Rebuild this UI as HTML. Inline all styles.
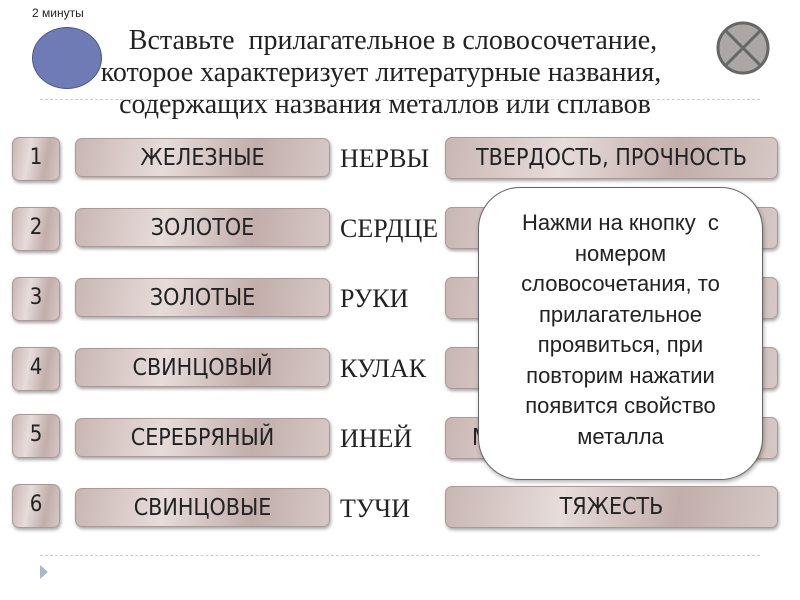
<!DOCTYPE html>
<html><head><meta charset="utf-8"><style>
body{margin:0;width:800px;height:600px;background:#fff;position:relative;overflow:hidden;font-family:"Liberation Sans","DejaVu Sans",sans-serif}
.a{position:absolute}
.b{position:absolute;box-sizing:border-box;border:1px solid #a89a98;border-radius:7px;background:linear-gradient(100deg,#c9b6b3 0%,#e6dcda 35%,#c2aeab 70%,#d6c8c6 100%);box-shadow:1px 2px 3px rgba(0,0,0,.35);text-align:center;color:#222;font-size:23px;font-family:"DejaVu Sans Condensed","Liberation Sans Narrow","Liberation Sans",sans-serif}
.n{left:12px;width:48px;height:44px;line-height:40px;font-size:22px}
.j{left:75px;width:255px;height:39px;line-height:38px}
.r{left:445px;width:333px;height:42px;line-height:40px}
.w{position:absolute;left:340px;font-family:"Liberation Serif",serif;font-size:26px;color:#222}
.t{position:absolute;left:0;width:770px;text-align:center;font-family:"Liberation Serif",serif;font-size:28px;color:#222;white-space:nowrap}
</style></head><body>
<div class="a" style="left:32px;top:6px;font-size:12px;color:#222">2 минуты</div>
<div class="t" style="top:25px;left:8px">Вставьте&nbsp; прилагательное в словосочетание,</div>
<div class="t" style="top:57px;left:-4px">которое характеризует литературные названия,</div>
<div class="t" style="top:89px;left:0">содержащих названия металлов или сплавов</div>
<div class="a" style="left:32px;top:27px;width:68px;height:60px;border-radius:50%;background:#6f7bb5;border:1px solid #4a5590"></div>
<div class="a" style="left:40px;top:99px;width:720px;border-top:1px dashed #ccc"></div>
<svg class="a" style="left:714px;top:19px" width="58" height="58"><circle cx="29" cy="29" r="25" fill="#aaa7a6" stroke="#666" stroke-width="3"/><line x1="12" y1="12" x2="46" y2="46" stroke="#666" stroke-width="3"/><line x1="46" y1="12" x2="12" y2="46" stroke="#666" stroke-width="3"/></svg>

<div class="b n" style="top:137px">1</div><div class="b j" style="top:138px">ЖЕЛЕЗНЫЕ</div><div class="w" style="top:144px">НЕРВЫ</div><div class="b r" style="top:137px">ТВЕРДОСТЬ, ПРОЧНОСТЬ</div>
<div class="b n" style="top:207px">2</div><div class="b j" style="top:208px">ЗОЛОТОЕ</div><div class="w" style="top:214px">СЕРДЦЕ</div><div class="b r" style="top:207px"></div>
<div class="b n" style="top:277px">3</div><div class="b j" style="top:278px">ЗОЛОТЫЕ</div><div class="w" style="top:284px">РУКИ</div><div class="b r" style="top:277px"></div>
<div class="b n" style="top:347px">4</div><div class="b j" style="top:348px">СВИНЦОВЫЙ</div><div class="w" style="top:354px">КУЛАК</div><div class="b r" style="top:347px"></div>
<div class="b n" style="top:414px">5</div><div class="b j" style="top:418px">СЕРЕБРЯНЫЙ</div><div class="w" style="top:424px">ИНЕЙ</div><div class="b r" style="top:417px;text-align:left;padding-left:26px">М</div>
<div class="b n" style="top:484px">6</div><div class="b j" style="top:488px">СВИНЦОВЫЕ</div><div class="w" style="top:494px">ТУЧИ</div><div class="b r" style="top:486px">ТЯЖЕСТЬ</div>

<div class="a" style="left:478px;top:187px;width:285px;height:293px;box-sizing:border-box;border:1px solid #666;border-radius:42px;background:#fff;box-shadow:1px 2px 4px rgba(0,0,0,.3);text-align:center;font-size:22px;line-height:30.5px;color:#222;padding-top:20px">Нажми на кнопку&nbsp; с<br>номером<br>словосочетания, то<br>прилагательное<br>проявиться, при<br>повторим нажатии<br>появится свойство<br>металла</div>

<div class="a" style="left:40px;top:555px;width:720px;border-top:1px dashed #ccc"></div>
<div class="a" style="left:40px;top:565px;width:0;height:0;border-top:7px solid transparent;border-bottom:7px solid transparent;border-left:8px solid #a9b8c6"></div>
</body></html>
